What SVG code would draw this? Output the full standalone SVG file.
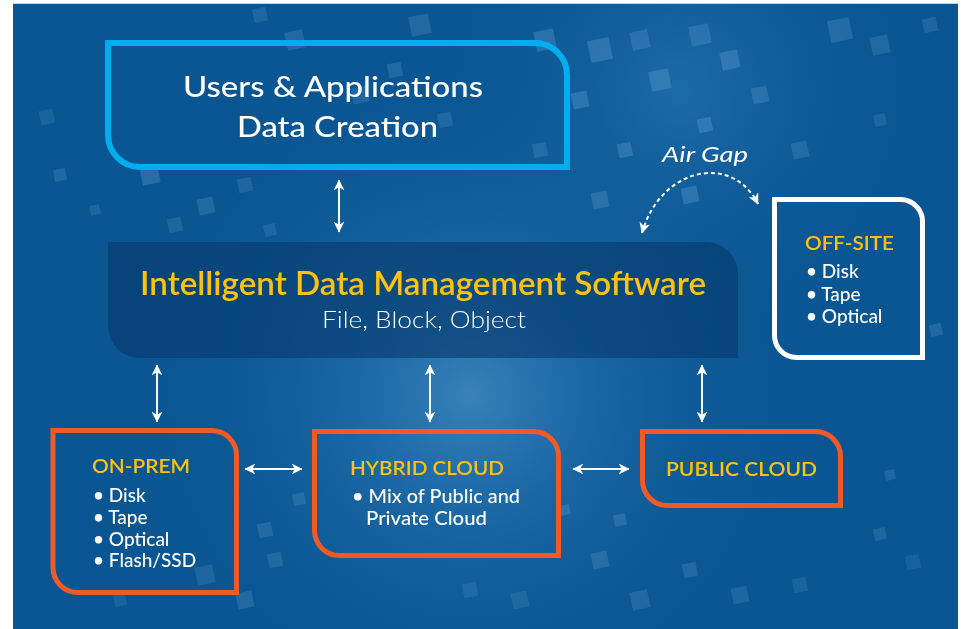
<svg xmlns="http://www.w3.org/2000/svg" width="961" height="629" viewBox="0 0 961 629">
  <defs>
    <radialGradient id="glow" cx="470" cy="395" r="340" gradientUnits="userSpaceOnUse">
      <stop offset="0" stop-color="#5fa6dc" stop-opacity="0.55"/>
      <stop offset="0.35" stop-color="#3b88c6" stop-opacity="0.35"/>
      <stop offset="1" stop-color="#0a5793" stop-opacity="0"/>
    </radialGradient>
    <radialGradient id="glow2" cx="680" cy="90" r="260" gradientUnits="userSpaceOnUse">
      <stop offset="0" stop-color="#2f80c0" stop-opacity="0.5"/>
      <stop offset="1" stop-color="#0a5793" stop-opacity="0"/>
    </radialGradient>
    <marker id="ah" viewBox="0 0 10 10" refX="9.5" refY="5" markerWidth="11" markerHeight="11" markerUnits="userSpaceOnUse" orient="auto-start-reverse">
      <path d="M0,0 L10,5 L0,10 L3,5 Z" fill="#ffffff"/>
    </marker>
    <style>
      .sq { fill: #8cc2ee; }
      #texture { opacity: 0.75; }
      .box { fill: none; stroke-width: 5; }
      .cyan { stroke: #00aeef; stroke-width: 6; }
      .orange { stroke: #f15a24; }
      .white { stroke: #ffffff; }
      .con { stroke: #ffffff; stroke-width: 2; fill: none; marker-start: url(#ah); marker-end: url(#ah); }
      .dash { stroke-dasharray: 4 3; }
      text { font-family: Lato, "Open Sans", "Liberation Sans", sans-serif; }
      .h { fill: #fdc20f; font-size: 20px; font-weight: 600; }
      .b { fill: #ffffff; font-size: 19px; font-weight: 500; }
    </style>
  </defs>

  <!-- background -->
  <rect x="0" y="0" width="961" height="629" fill="#ffffff"/>
  <rect x="13" y="4" width="945" height="625" fill="#0a5692"/>
  <line x1="13" y1="3.5" x2="958" y2="3.5" stroke="#d0d0d0" stroke-width="1"/>
  <rect x="13" y="4" width="945" height="625" fill="url(#glow2)"/>
  <rect x="13" y="4" width="945" height="625" fill="url(#glow)"/>
  <g id="texture">
    <rect class="sq" x="141" y="166" width="18" height="18" opacity="0.3" transform="rotate(-12 150 175)"/>
    <rect class="sq" x="198" y="198" width="16" height="16" opacity="0.25" transform="rotate(-12 206 206)"/>
    <rect class="sq" x="238" y="178" width="14" height="14" opacity="0.2" transform="rotate(-12 245 185)"/>
    <rect class="sq" x="54" y="169" width="12" height="12" opacity="0.25" transform="rotate(-12 60 175)"/>
    <rect class="sq" x="90" y="205" width="10" height="10" opacity="0.2" transform="rotate(-12 95 210)"/>
    <rect class="sq" x="264" y="224" width="12" height="12" opacity="0.2" transform="rotate(-12 270 230)"/>
    <rect class="sq" x="168" y="218" width="14" height="14" opacity="0.2" transform="rotate(-12 175 225)"/>
    <rect class="sq" x="40" y="110" width="14" height="14" opacity="0.18" transform="rotate(-12 47 117)"/>
    <rect class="sq" x="286" y="31" width="18" height="18" opacity="0.25" transform="rotate(-12 295 40)"/>
    <rect class="sq" x="253" y="8" width="14" height="14" opacity="0.2" transform="rotate(-12 260 15)"/>
    <rect class="sq" x="410" y="15" width="20" height="20" opacity="0.25" transform="rotate(-12 420 25)"/>
    <rect class="sq" x="388" y="63" width="14" height="14" opacity="0.25" transform="rotate(-12 395 70)"/>
    <rect class="sq" x="352" y="87" width="16" height="16" opacity="0.22" transform="rotate(-12 360 95)"/>
    <rect class="sq" x="438" y="113" width="14" height="14" opacity="0.22" transform="rotate(-12 445 120)"/>
    <rect class="sq" x="535" y="30" width="20" height="20" opacity="0.3" transform="rotate(-12 545 40)"/>
    <rect class="sq" x="589" y="39" width="22" height="22" opacity="0.3" transform="rotate(-12 600 50)"/>
    <rect class="sq" x="631" y="31" width="18" height="18" opacity="0.25" transform="rotate(-12 640 40)"/>
    <rect class="sq" x="650" y="70" width="20" height="20" opacity="0.3" transform="rotate(-12 660 80)"/>
    <rect class="sq" x="572" y="92" width="16" height="16" opacity="0.3" transform="rotate(-12 580 100)"/>
    <rect class="sq" x="690" y="25" width="20" height="20" opacity="0.25" transform="rotate(-12 700 35)"/>
    <rect class="sq" x="721" y="51" width="18" height="18" opacity="0.3" transform="rotate(-12 730 60)"/>
    <rect class="sq" x="752" y="87" width="16" height="16" opacity="0.25" transform="rotate(-12 760 95)"/>
    <rect class="sq" x="698" y="118" width="14" height="14" opacity="0.3" transform="rotate(-12 705 125)"/>
    <rect class="sq" x="792" y="142" width="16" height="16" opacity="0.22" transform="rotate(-12 800 150)"/>
    <rect class="sq" x="829" y="19" width="22" height="22" opacity="0.25" transform="rotate(-12 840 30)"/>
    <rect class="sq" x="871" y="36" width="18" height="18" opacity="0.22" transform="rotate(-12 880 45)"/>
    <rect class="sq" x="923" y="18" width="14" height="14" opacity="0.2" transform="rotate(-12 930 25)"/>
    <rect class="sq" x="618" y="143" width="14" height="14" opacity="0.3" transform="rotate(-12 625 150)"/>
    <rect class="sq" x="682" y="187" width="16" height="16" opacity="0.3" transform="rotate(-12 690 195)"/>
    <rect class="sq" x="533" y="143" width="14" height="14" opacity="0.22" transform="rotate(-12 540 150)"/>
    <rect class="sq" x="592" y="192" width="16" height="16" opacity="0.25" transform="rotate(-12 600 200)"/>
    <rect class="sq" x="874" y="114" width="12" height="12" opacity="0.2" transform="rotate(-12 880 120)"/>
    <rect class="sq" x="930" y="324" width="12" height="12" opacity="0.25" transform="rotate(-12 936 330)"/>
    <rect class="sq" x="237" y="592" width="16" height="16" opacity="0.25" transform="rotate(-12 245 600)"/>
    <rect class="sq" x="196" y="566" width="18" height="18" opacity="0.2" transform="rotate(-12 205 575)"/>
    <rect class="sq" x="268" y="553" width="14" height="14" opacity="0.22" transform="rotate(-12 275 560)"/>
    <rect class="sq" x="114" y="594" width="12" height="12" opacity="0.18" transform="rotate(-12 120 600)"/>
    <rect class="sq" x="592" y="552" width="16" height="16" opacity="0.25" transform="rotate(-12 600 560)"/>
    <rect class="sq" x="631" y="591" width="18" height="18" opacity="0.22" transform="rotate(-12 640 600)"/>
    <rect class="sq" x="683" y="563" width="14" height="14" opacity="0.22" transform="rotate(-12 690 570)"/>
    <rect class="sq" x="732" y="587" width="16" height="16" opacity="0.2" transform="rotate(-12 740 595)"/>
    <rect class="sq" x="793" y="578" width="14" height="14" opacity="0.18" transform="rotate(-12 800 585)"/>
    <rect class="sq" x="874" y="528" width="12" height="12" opacity="0.22" transform="rotate(-12 880 534)"/>
    <rect class="sq" x="906" y="555" width="14" height="14" opacity="0.15" transform="rotate(-12 913 562)"/>
    <rect class="sq" x="614" y="514" width="12" height="12" opacity="0.25" transform="rotate(-12 620 520)"/>
    <rect class="sq" x="293" y="493" width="12" height="12" opacity="0.22" transform="rotate(-12 299 499)"/>
    <rect class="sq" x="258" y="523" width="14" height="14" opacity="0.22" transform="rotate(-12 265 530)"/>
    <rect class="sq" x="512" y="592" width="16" height="16" opacity="0.18" transform="rotate(-12 520 600)"/>
    <rect class="sq" x="463" y="583" width="14" height="14" opacity="0.18" transform="rotate(-12 470 590)"/>
    <rect class="sq" x="560" y="505" width="10" height="10" opacity="0.25" transform="rotate(-12 565 510)"/>
    <rect class="sq" x="885" y="470" width="10" height="10" opacity="0.22" transform="rotate(-12 890 475)"/>
  </g>

  <!-- nodes -->
  <g id="users">
    <path class="box cyan" d="M108,43 H535 A32,32 0 0 1 567,75 V167 H140 A32,32 0 0 1 108,135 Z"/>
    <text x="183" y="97" font-size="29" font-weight="500" fill="#ffffff" textLength="300" lengthAdjust="spacingAndGlyphs">Users &amp; Applications</text>
    <text x="237" y="137" font-size="29" font-weight="500" fill="#ffffff" textLength="201" lengthAdjust="spacingAndGlyphs">Data Creation</text>
  </g>

  <g id="software">
    <path d="M108,242 H706 A32,32 0 0 1 738,274 V358 H140 A32,32 0 0 1 108,326 Z" fill="#053a6b" fill-opacity="0.62"/>
    <text x="140" y="295" font-size="32" font-weight="600" fill="#fdc20f" textLength="566" lengthAdjust="spacingAndGlyphs">Intelligent Data Management Software</text>
    <text x="322" y="328" font-size="23" font-weight="300" fill="#ffffff" textLength="204" lengthAdjust="spacingAndGlyphs">File, Block, Object</text>
  </g>

  <g id="offsite">
    <path class="box white" d="M774.5,199.5 H900.5 A22,22 0 0 1 922.5,221.5 V357.5 H796.5 A22,22 0 0 1 774.5,335.5 Z"/>
    <text class="h" x="805" y="250" textLength="89" lengthAdjust="spacingAndGlyphs">OFF-SITE</text>
    <text class="b" x="806" y="278">• Disk</text>
    <text class="b" x="806" y="301">• Tape</text>
    <text class="b" x="806" y="323">• Optical</text>
  </g>

  <g id="onprem">
    <path class="box orange" d="M53,430.5 H211.5 A25,25 0 0 1 236.5,455.5 V592.5 H78 A25,25 0 0 1 53,567.5 Z"/>
    <text class="h" x="92" y="473" textLength="98" lengthAdjust="spacingAndGlyphs">ON-PREM</text>
    <text class="b" x="93" y="502">• Disk</text>
    <text class="b" x="93" y="524">• Tape</text>
    <text class="b" x="93" y="546">• Optical</text>
    <text class="b" x="93" y="567">• Flash/SSD</text>
  </g>

  <g id="hybrid">
    <path class="box orange" d="M314.5,431.5 H533.5 A25,25 0 0 1 558.5,456.5 V555.5 H339.5 A25,25 0 0 1 314.5,530.5 Z"/>
    <text class="h" x="350" y="475" textLength="154" lengthAdjust="spacingAndGlyphs">HYBRID CLOUD</text>
    <text class="b" x="352" y="503" textLength="168" lengthAdjust="spacingAndGlyphs">• Mix of Public and</text>
    <text class="b" x="366" y="525" textLength="121" lengthAdjust="spacingAndGlyphs">Private Cloud</text>
  </g>

  <g id="public">
    <path class="box orange" d="M642.5,431.5 H815.5 A25,25 0 0 1 840.5,456.5 V505.5 H667.5 A25,25 0 0 1 642.5,480.5 Z"/>
    <text class="h" x="666" y="476" textLength="151" lengthAdjust="spacingAndGlyphs">PUBLIC CLOUD</text>
  </g>

  <g id="airgap-label">
    <text x="662" y="162" font-size="22" font-style="italic" fill="#ffffff" textLength="86" lengthAdjust="spacingAndGlyphs">Air Gap</text>
  </g>

  <!-- connectors -->
  <g id="connectors">
    <line class="con" x1="339" y1="180" x2="339" y2="232"/>
    <line class="con" x1="157" y1="365" x2="157" y2="422"/>
    <line class="con" x1="430" y1="365" x2="430" y2="422"/>
    <line class="con" x1="702" y1="365" x2="702" y2="422"/>
    <line class="con" x1="245" y1="469" x2="302" y2="469"/>
    <line class="con" x1="573" y1="469" x2="629" y2="469"/>
    <path class="con dash" d="M642,233 C660,168 732,152 758,204"/>
  </g>
</svg>
